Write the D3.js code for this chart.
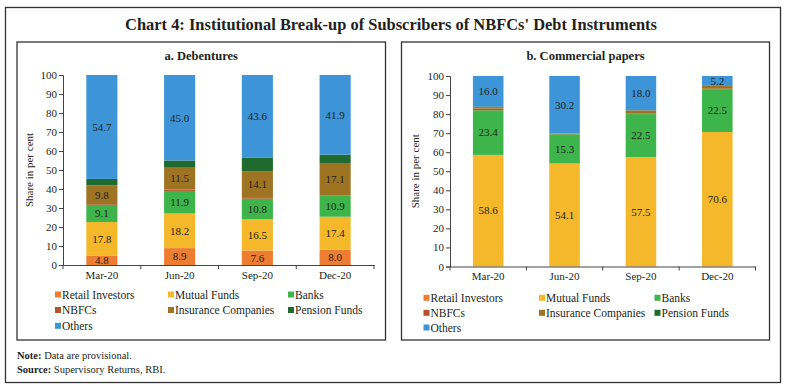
<!DOCTYPE html>
<html>
<head>
<meta charset="utf-8">
<script src="https://cdn.jsdelivr.net/npm/d3@7"></script>
<style>
  body { margin: 0; background: #fff; }
  svg { display: block; font-family: "Liberation Serif", "Times New Roman", serif; }
</style>
</head>
<body>
<svg id="chart" width="786" height="390"></svg>
<script>
// ---------- DATA ----------
const categories = ["Mar-20", "Jun-20", "Sep-20", "Dec-20"];
const seriesNames = ["Retail Investors", "Mutual Funds", "Banks", "NBFCs", "Insurance Companies", "Pension Funds", "Others"];
const seriesColors = ["#ED7D31", "#F5B82A", "#3DB54A", "#B3532A", "#9E7423", "#1F6B2F", "#3D95D7"];
const labelledSeries = ["Retail Investors", "Mutual Funds", "Banks", "Insurance Companies", "Others"];

// a. Debentures
const debRetail    = [4.8, 8.9, 7.6, 8.0];
const debMutual    = [17.8, 18.2, 16.5, 17.4];
const debBanks     = [9.1, 11.9, 10.8, 10.9];
const debNBFCs     = [0.4, 0.7, 0.4, 0.3];
const debInsurance = [9.8, 11.5, 14.1, 17.1];
const debPension   = [3.4, 3.8, 7.0, 4.4];
const debOthers    = [54.7, 45.0, 43.6, 41.9];

// b. Commercial papers
const cpRetail    = [0.0, 0.0, 0.0, 0.0];
const cpMutual    = [58.6, 54.1, 57.5, 70.6];
const cpBanks     = [23.4, 15.3, 22.5, 22.5];
const cpNBFCs     = [0.9, 0.1, 0.2, 0.2];
const cpInsurance = [0.5, 0.3, 1.8, 1.5];
const cpPension   = [0.6, 0.0, 0.0, 0.0];
const cpOthers    = [16.0, 30.2, 18.0, 5.2];

const yTicks = [0, 10, 20, 30, 40, 50, 60, 70, 80, 90, 100];

const titleText = "Chart 4: Institutional Break-up of Subscribers of NBFCs' Debt Instruments";
const panelTitles = ["a. Debentures", "b. Commercial papers"];
const yLabel = "Share in per cent";

// ---------- DRAW ----------
const svg = d3.select("#chart");
const ink = "#231f20";

svg.append("rect").attr("x", 5.5).attr("y", 7.5).attr("width", 775).attr("height", 375)
  .attr("fill", "none").attr("stroke", "#333").attr("stroke-width", 1.3);

svg.append("text").attr("x", 391).attr("y", 30).attr("text-anchor", "middle")
  .attr("font-weight", "bold").attr("font-size", 17.5).attr("fill", ink)
  .attr("textLength", 532).attr("lengthAdjust", "spacingAndGlyphs")
  .text(titleText);

function buildRows(arrs) {
  return categories.map((c, i) => {
    const o = { cat: c };
    seriesNames.forEach((s, j) => o[s] = arrs[j][i]);
    return o;
  });
}

const panels = [
  { box: [17, 42, 368.5, 298], y0: 265, y1: 75, x0: 63, x1: 374, ylx: 33,
    legX: [55, 168, 288], legY: [295, 310.5, 326.3], titleY: 59.5,
    rows: buildRows([debRetail, debMutual, debBanks, debNBFCs, debInsurance, debPension, debOthers]) },
  { box: [401.5, 42, 368, 298], y0: 266.5, y1: 76, x0: 450, x1: 755.5, ylx: 419,
    legX: [423.5, 539, 654.5], legY: [298.3, 313.3, 328], titleY: 59.5,
    rows: buildRows([cpRetail, cpMutual, cpBanks, cpNBFCs, cpInsurance, cpPension, cpOthers]) }
];

panels.forEach((p, pi) => {
  const g = svg.append("g");
  g.append("rect").attr("x", p.box[0]).attr("y", p.box[1]).attr("width", p.box[2]).attr("height", p.box[3])
    .attr("fill", "none").attr("stroke", "#333").attr("stroke-width", 1.3);
  g.append("text").attr("x", p.box[0] + p.box[2] / 2).attr("y", p.titleY).attr("text-anchor", "middle")
    .attr("font-weight", "bold").attr("font-size", 12.5).attr("fill", ink).text(panelTitles[pi]);

  const y = d3.scaleLinear().domain([0, 100]).range([p.y0, p.y1]);
  const x = d3.scaleBand().domain(categories).range([p.x0, p.x1]).padding(0);
  const barW = x.bandwidth() * 0.4;

  const stack = d3.stack().keys(seriesNames)(p.rows);
  const layers = g.append("g").selectAll("g").data(stack).join("g")
    .attr("fill", (d, i) => seriesColors[i]);
  layers.selectAll("rect").data(d => d).join("rect")
    .attr("x", d => x(d.data.cat) + (x.bandwidth() - barW) / 2)
    .attr("width", barW)
    .attr("y", d => y(d[1]))
    .attr("height", d => Math.max(0, y(d[0]) - y(d[1])));

  // labels
  stack.forEach(layer => {
    if (!labelledSeries.includes(layer.key)) return;
    layer.forEach(d => {
      const v = d[1] - d[0];
      if (v < 3) return;
      g.append("text").attr("x", x(d.data.cat) + x.bandwidth() / 2)
        .attr("y", y((d[0] + d[1]) / 2) + 3.8).attr("text-anchor", "middle")
        .attr("font-size", 11).attr("fill", ink).text(v.toFixed(1));
    });
  });

  // y axis
  const ya = g.append("g").attr("transform", `translate(${p.x0},0)`)
    .call(d3.axisLeft(y).tickValues(yTicks).tickSize(4).tickPadding(2).tickFormat(d3.format("d")));
  ya.select(".domain").attr("stroke", "#444");
  ya.selectAll(".tick line").attr("stroke", "#444");
  ya.selectAll("text").attr("font-size", 11).attr("fill", ink).attr("font-family", "Liberation Serif");

  // x axis
  const xa = g.append("g").attr("transform", `translate(0,${p.y0})`)
    .call(d3.axisBottom(x).tickSize(0).tickPadding(6));
  xa.select(".domain").attr("stroke", "#444");
  xa.selectAll("text").attr("font-size", 11).attr("fill", ink).attr("font-family", "Liberation Serif");
  const bounds = [p.x0].concat(categories.map(c => x(c) + x.bandwidth()));
  xa.selectAll(".bt").data(bounds).join("line").attr("class", "bt")
    .attr("x1", d => d).attr("x2", d => d).attr("y1", 0).attr("y2", 4).attr("stroke", "#444");

  // y label
  g.append("text").attr("transform", `translate(${p.ylx},${(p.y0 + p.y1) / 2}) rotate(-90)`)
    .attr("text-anchor", "middle").attr("font-size", 11).attr("fill", ink).text(yLabel);

  // legend
  seriesNames.forEach((s, i) => {
    const col = i % 3, row = Math.floor(i / 3);
    const lx = p.legX[col], ly = p.legY[row];
    g.append("rect").attr("x", lx).attr("y", ly - 3.5).attr("width", 6).attr("height", 6).attr("fill", seriesColors[i]);
    g.append("text").attr("x", lx + 7).attr("y", ly + 3.8).attr("font-size", 11.5).attr("fill", ink).text(s);
  });
});

// notes
const note = svg.append("text").attr("x", 17).attr("y", 359).attr("font-size", 10.5).attr("fill", ink);
note.append("tspan").attr("font-weight", "bold").text("Note: ");
note.append("tspan").text("Data are provisional.");
const src = svg.append("text").attr("x", 17).attr("y", 373).attr("font-size", 10.5).attr("fill", ink);
src.append("tspan").attr("font-weight", "bold").text("Source: ");
src.append("tspan").text("Supervisory Returns, RBI.");
</script>
</body>
</html>
